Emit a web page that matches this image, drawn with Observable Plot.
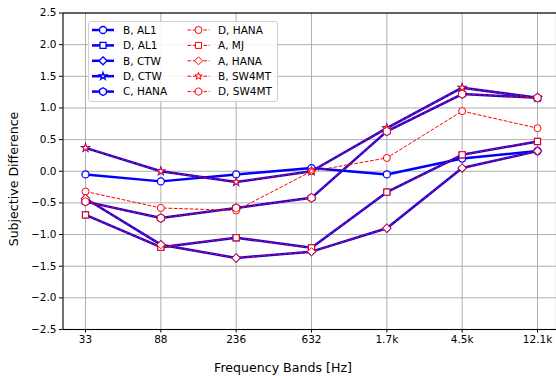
<!DOCTYPE html>
<html>
<head>
<meta charset="utf-8">
<script src="https://cdn.jsdelivr.net/npm/d3@7"></script>
<script src="https://cdn.jsdelivr.net/npm/@observablehq/plot@0.6"></script>
<style>
  html, body { margin: 0; padding: 0; background: #fff; }
  #chart { width: 556px; height: 376px; }
  svg { font-family: "DejaVu Sans", sans-serif; }
</style>
</head>
<body>
<div id="chart"></div>
<script>
// Frequency bands (x categories)
const bands = ["33", "88", "236", "632", "1.7k", "4.5k", "12.1k"];
const yTicks = [-2.5, -2.0, -1.5, -1.0, -0.5, 0.0, 0.5, 1.0, 1.5, 2.0, 2.5];

// Subjective difference per band, one array per condition
const bAL1   = [-0.05, -0.16, -0.05, 0.05, -0.05, 0.20, 0.32];
const dAL1   = [-0.69, -1.20, -1.05, -1.21, -0.33, 0.26, 0.47];
const bCTW   = [-0.43, -1.16, -1.37, -1.27, -0.90, 0.05, 0.32];
const dCTW   = [0.37, 0.00, -0.17, 0.00, 0.68, 1.32, 1.16];
const cHANA  = [-0.48, -0.74, -0.58, -0.42, 0.63, 1.22, 1.16];
const dHANA  = [-0.32, -0.58, -0.62, 0.00, 0.21, 0.95, 0.68];
const aMJ    = [-0.69, -1.20, -1.05, -1.21, -0.33, 0.26, 0.47];
const aHANA  = [-0.43, -1.16, -1.37, -1.27, -0.90, 0.05, 0.32];
const bSW4MT = [0.37, 0.00, -0.17, 0.00, 0.68, 1.32, 1.16];
const dSW4MT = [-0.48, -0.74, -0.58, -0.42, 0.63, 1.22, 1.16];

const seriesNames = ["B, AL1", "D, AL1", "B, CTW", "D, CTW", "C, HANA",
                     "D, HANA", "A, MJ", "A, HANA", "B, SW4MT", "D, SW4MT"];
const seriesValues = [bAL1, dAL1, bCTW, dCTW, cHANA, dHANA, aMJ, aHANA, bSW4MT, dSW4MT];

// Drawing styles: solid blue group, dashed red group
const symbols = ["circle", "square", "diamond2", "star", "hexagon"];
const styleOf = (k) => {
  const red = k >= 5;
  return {
    color: red ? "#ff0000" : "#0000ff",
    width: red ? 1 : 2.5,
    dash: red ? "3.7,1.6" : null,
    symbol: symbols[k % 5],
    markerStroke: red ? 1 : 1.3
  };
};

const tables = seriesValues.map((vals, k) =>
  vals.map((v, i) => ({band: i, value: v, name: seriesNames[k]})));

const symbolR = {circle: 3.5, square: 3.4, diamond2: 3.6, star: 2.3, hexagon: 3.5};

const marks = [
  Plot.gridX(d3.range(bands.length), {stroke: "#b0b0b0", strokeOpacity: 1, strokeWidth: 1}),
  Plot.gridY(yTicks, {stroke: "#b0b0b0", strokeOpacity: 1, strokeWidth: 1}),
  Plot.axisX(d3.range(bands.length), {
    tickFormat: (i) => bands[i], tickSize: 3.5, tickPadding: 3, label: null, fontSize: 10.5
  }),
  Plot.axisY(yTicks, {
    tickFormat: (d) => d.toFixed(1).replace("-", "\u2212"), tickSize: 3.5, tickPadding: 3,
    label: null, fontSize: 10.5
  })
];

tables.forEach((data, k) => {
  const s = styleOf(k);
  marks.push(Plot.line(data, {
    x: "band", y: "value", stroke: s.color, strokeWidth: s.width,
    strokeDasharray: s.dash, strokeLinejoin: "round", strokeLinecap: "butt"
  }));
  marks.push(Plot.dot(data, {
    x: "band", y: "value", symbol: s.symbol, r: symbolR[s.symbol],
    stroke: s.color, fill: "white", strokeWidth: s.markerStroke
  }));
});

marks.push(Plot.frame({stroke: "black", strokeWidth: 1.1}));

const chart = Plot.plot({
  width: 556,
  height: 376,
  marginLeft: 62.5,
  marginRight: 0,
  marginTop: 12.5,
  marginBottom: 47,
  x: {type: "linear", domain: [-0.3, 6.3], range: [62.4, 559.6]},
  y: {domain: [-2.5, 2.5]},
  style: {fontFamily: "DejaVu Sans", fontSize: "10px", color: "black", background: "white"},
  marks
});

document.getElementById("chart").append(chart);

// Axis titles and legend drawn on top of the plot
const svg = d3.select(chart);

svg.append("text")
  .attr("x", 283).attr("y", 372)
  .attr("text-anchor", "middle")
  .attr("font-size", 12.6)
  .attr("fill", "black")
  .text("Frequency Bands [Hz]");

svg.append("text")
  .attr("transform", "translate(18,179) rotate(-90)")
  .attr("text-anchor", "middle")
  .attr("font-size", 12.6)
  .attr("fill", "black")
  .text("Subjective Difference");

const hexagonPath = (r) => {
  const pts = d3.range(6).map(i => {
    const a = Math.PI / 3 * i - Math.PI / 2;
    return [r * Math.cos(a), r * Math.sin(a)];
  });
  return "M" + pts.map(p => p.join(",")).join("L") + "Z";
};
const symbolPath = (name) => {
  const r = symbolR[name];
  const size = r * r * Math.PI;
  if (name === "hexagon") return hexagonPath(r * 1.1);
  const type = {circle: d3.symbolCircle, square: d3.symbolSquare,
                diamond2: d3.symbolDiamond2, star: d3.symbolStar}[name];
  return d3.symbol(type, size)();
};

const legend = svg.append("g").attr("font-size", 10.5).attr("text-anchor", "start");
legend.append("rect")
  .attr("x", 88.5).attr("y", 21.5).attr("width", 189).attr("height", 80)
  .attr("rx", 2.5)
  .attr("fill", "white").attr("fill-opacity", 0.85)
  .attr("stroke", "#d0d0d0").attr("stroke-width", 1);

const rowY = [30, 45.4, 60.8, 76.2, 91.6];
seriesNames.forEach((name, k) => {
  const s = styleOf(k);
  const col = k < 5 ? 0 : 1;
  const y = rowY[k % 5];
  const x0 = col === 0 ? 92 : 187.5;
  const x1 = col === 0 ? 114 : 209.5;
  const tx = col === 0 ? 123 : 218;
  legend.append("line")
    .attr("x1", x0).attr("x2", x1).attr("y1", y).attr("y2", y)
    .attr("stroke", s.color).attr("stroke-width", s.width)
    .attr("stroke-dasharray", s.dash);
  legend.append("path")
    .attr("d", symbolPath(s.symbol))
    .attr("transform", `translate(${(x0 + x1) / 2},${y})`)
    .attr("fill", "white").attr("stroke", s.color).attr("stroke-width", s.markerStroke);
  legend.append("text")
    .attr("x", tx).attr("y", y)
    .attr("dy", "0.36em")
    .attr("text-anchor", "start")
    .attr("fill", "black")
    .text(name);
});
</script>
</body>
</html>
